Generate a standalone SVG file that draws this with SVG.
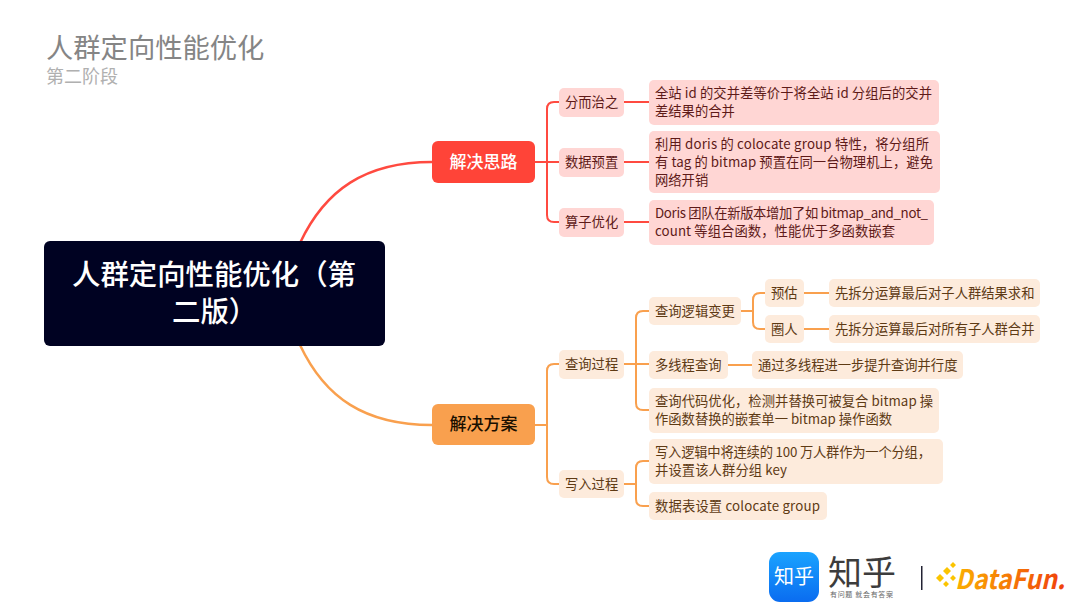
<svg xmlns="http://www.w3.org/2000/svg" width="1080" height="605" viewBox="0 0 1080 605">
<defs><linearGradient id="zh" x1="0" y1="0" x2="0" y2="1"><stop offset="0" stop-color="#1aa3ff"/><stop offset="1" stop-color="#0a6cf0"/></linearGradient><linearGradient id="df" x1="0" y1="0" x2="1" y2="0"><stop offset="0" stop-color="#fbb000"/><stop offset="1" stop-color="#f0400c"/></linearGradient></defs>
<style>
text{font-family:"Noto Sans CJK SC","Noto Sans",sans-serif}
.r{fill:#ffd6d4}.o{fill:#fdebdc}
.rt{fill:#5e1a18;font-size:13.3px}.ot{fill:#5e3a14;font-size:13.3px}
.rl{fill:none;stroke:#ff4a40;stroke-width:2}.ol{fill:none;stroke:#f9a04e;stroke-width:2}
.p{fill:#fbc400}
</style>
<rect width="1080" height="605" fill="#fff"/>
<text x="46" y="58" font-size="27.300" fill="#858585">人群定向性能优化</text>
<text x="46" y="83" font-size="18" fill="#b0b0b0">第二阶段</text>
<g id="connectors">
<path class="rl" style="stroke-width:2.500" d="M300 243C325 190 365 162 432 162"/>
<path class="ol" style="stroke-width:2.500" d="M300 345C325 398 365 425 432 425"/>
<path class="rl" d="M535 162H559M559 102H554Q547 102 547 109V215Q547 222 554 222H559M624 102H649M624 162H649M624 222H649"/>
<path class="ol" d="M535 425H547M559 364H554Q547 364 547 371V477Q547 484 554 484H559"/>
<path class="ol" d="M624 364H649M649 311H643Q636 311 636 318V403Q636 410 643 410H649M624 484H636M649 461H643Q636 461 636 468V499Q636 506 643 506H649M741 311H753M765 293H760Q753 293 753 300V322Q753 329 760 329H765M804 293H829M804 329H829M728 365H752"/>
</g>
<g id="root"><rect x="44" y="241" width="341" height="105" rx="6" fill="#000222"/><text x="72" y="285" font-size="28.400" fill="#fff" font-weight="500">人群定向性能优化（第</text><text x="172" y="322" font-size="28.400" fill="#fff" font-weight="500">二版）</text></g>
<g id="n-silu"><rect x="432" y="141" width="103" height="42" rx="6" fill="#ff4438"/><text x="483.500" y="168" font-size="17" fill="#fff" text-anchor="middle" font-weight="500">解决思路</text></g>
<g id="n-fangan"><rect x="432" y="404" width="103" height="41" rx="6" fill="#f9a04e"/><text x="483.500" y="430" font-size="17" fill="#1a0f00" text-anchor="middle" font-weight="500">解决方案</text></g>
<g id="n1"><rect class="r" x="559" y="88" width="65" height="29" rx="5"/><text class="rt" x="565" y="107">分而治之</text></g>
<g id="n2"><rect class="r" x="649" y="80" width="290" height="45" rx="5"/><text class="rt" x="655" y="98" textLength="277">全站 id 的交并差等价于将全站 id 分组后的交并</text><text class="rt" x="655" y="116">差结果的合并</text></g>
<g id="n3"><rect class="r" x="559" y="148" width="65" height="29" rx="5"/><text class="rt" x="565" y="167">数据预置</text></g>
<g id="n4"><rect class="r" x="649" y="131" width="291" height="62" rx="5"/><text class="rt" x="655" y="149" textLength="274">利用 doris 的 colocate group 特性，将分组所</text><text class="rt" x="655" y="167" textLength="278">有 tag 的 bitmap 预置在同一台物理机上，避免</text><text class="rt" x="655" y="185">网络开销</text></g>
<g id="n5"><rect class="r" x="559" y="208" width="65" height="29" rx="5"/><text class="rt" x="565" y="227">算子优化</text></g>
<g id="n6"><rect class="r" x="649" y="200" width="285" height="45" rx="5"/><text class="rt" x="655" y="218" textLength="273">Doris 团队在新版本增加了如 bitmap_and_not_</text><text class="rt" x="655" y="236" textLength="240">count 等组合函数，性能优于多函数嵌套</text></g>
<g id="n7"><rect class="o" x="559" y="350" width="65" height="29" rx="5"/><text class="ot" x="565" y="369">查询过程</text></g>
<g id="n8"><rect class="o" x="649" y="297" width="92" height="28" rx="5"/><text class="ot" x="655" y="316">查询逻辑变更</text></g>
<g id="n9"><rect class="o" x="765" y="279" width="39" height="28" rx="5"/><text class="ot" x="771" y="298">预估</text></g>
<g id="n10"><rect class="o" x="829" y="279" width="211" height="28" rx="5"/><text class="ot" x="835" y="298">先拆分运算最后对子人群结果求和</text></g>
<g id="n11"><rect class="o" x="765" y="315" width="39" height="28" rx="5"/><text class="ot" x="771" y="334">圈人</text></g>
<g id="n12"><rect class="o" x="829" y="315" width="211" height="28" rx="5"/><text class="ot" x="835" y="334">先拆分运算最后对所有子人群合并</text></g>
<g id="n13"><rect class="o" x="649" y="351" width="79" height="28" rx="5"/><text class="ot" x="655" y="370">多线程查询</text></g>
<g id="n14"><rect class="o" x="752" y="351" width="211" height="28" rx="5"/><text class="ot" x="758" y="370">通过多线程进一步提升查询并行度</text></g>
<g id="n15"><rect class="o" x="649" y="388" width="290" height="45" rx="5"/><text class="ot" x="655" y="406" textLength="278">查询代码优化，检测并替换可被复合 bitmap 操</text><text class="ot" x="655" y="424" textLength="237">作函数替换的嵌套单一 bitmap 操作函数</text></g>
<g id="n16"><rect class="o" x="559" y="470" width="65" height="28" rx="5"/><text class="ot" x="565" y="489">写入过程</text></g>
<g id="n17"><rect class="o" x="649" y="439" width="294" height="45" rx="5"/><text class="ot" x="655" y="457" textLength="276">写入逻辑中将连续的 100 万人群作为一个分组，</text><text class="ot" x="655" y="475" textLength="132">并设置该人群分组 key</text></g>
<g id="n18"><rect class="o" x="649" y="492" width="178" height="28" rx="5"/><text class="ot" x="655" y="511" textLength="165">数据表设置 colocate group</text></g>
<g id="logos">
<rect x="769" y="552" width="50" height="50" rx="11" fill="url(#zh)"/>
<text x="794" y="584" font-size="20" fill="#fff" text-anchor="middle">知乎</text>
<text x="828" y="585" font-size="34" fill="#3c3c3c">知乎</text>
<text x="830" y="597" font-size="7" fill="#666" textLength="63">有问题 就会有答案</text>
<rect x="921" y="566" width="1.500" height="24" fill="#223"/>
<path class="p" d="M936 578l4-4 4 4-4 4zM943 571l4-4 4 4-4 4zM943 584l3-3 3 3-3 3zM950 578l3-3 3 3-3 3zM950 565l3-3 3 3-3 3z"/>
<text x="955" y="589" font-size="27" font-weight="700" font-style="italic" fill="url(#df)" font-family="Liberation Sans" textLength="110" lengthAdjust="spacingAndGlyphs">DataFun.</text>
</g>
</svg>
